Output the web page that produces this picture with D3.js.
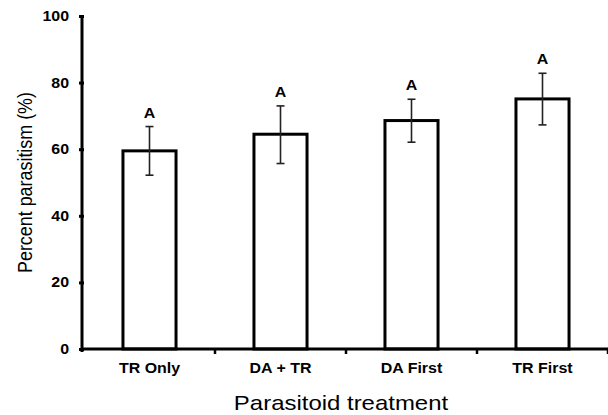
<!DOCTYPE html>
<html>
<head>
<meta charset="utf-8">
<script src="https://cdn.jsdelivr.net/npm/d3@7"></script>
<style>
  body { margin: 0; background: #fff; }
  svg { display: block; font-family: Arial, "Liberation Sans", sans-serif; }
</style>
</head>
<body>
<svg id="chart" width="608" height="415"></svg>
<script>
// データ
var treatments = ["TR Only", "DA + TR", "DA First", "TR First"];
var means = [59.5, 64.5, 68.6, 75.1];
var errLow = [52.2, 55.7, 62.1, 67.3];
var errHigh = [66.8, 73.0, 75.0, 82.8];
var letters = ["A", "A", "A", "A"];
var yTicks = [0, 20, 40, 60, 80, 100];

var svg = d3.select("#chart");
var plotLeft = 84, plotRight = 608, plotTop = 16, plotBottom = 349;
var stretch = 1.14; // 元画像は横方向に少し引き伸ばされている

var x = d3.scaleBand().domain(treatments).range([plotLeft, plotRight]).padding(0);
var y = d3.scaleLinear().domain([0, 100]).range([plotBottom, plotTop]);
var barW = x.bandwidth() * 0.405;

// 文字を横に引き伸ばす
function widen(sel) {
  sel.each(function () {
    var w = this.getComputedTextLength();
    d3.select(this).attr("textLength", w * stretch).attr("lengthAdjust", "spacingAndGlyphs");
  });
}

// 棒
svg.selectAll("rect.bar")
  .data(treatments)
  .enter()
  .append("rect")
  .attr("class", "bar")
  .attr("x", (d) => x(d) + x.bandwidth() / 2 - barW / 2)
  .attr("y", (d, i) => y(means[i]))
  .attr("width", barW)
  .attr("height", (d, i) => y(0) - y(means[i]))
  .attr("fill", "#fff")
  .attr("stroke", "#000")
  .attr("stroke-width", 3);

// エラーバー
var cap = 4;
var eb = svg.selectAll("g.err").data(treatments).enter().append("g")
  .attr("stroke", "#222").attr("stroke-width", 1.6);
eb.append("line")
  .attr("x1", (d) => x(d) + x.bandwidth() / 2)
  .attr("x2", (d) => x(d) + x.bandwidth() / 2)
  .attr("y1", (d, i) => y(errLow[i]))
  .attr("y2", (d, i) => y(errHigh[i]));
[errLow, errHigh].forEach(function (arr) {
  eb.append("line")
    .attr("x1", (d) => x(d) + x.bandwidth() / 2 - cap)
    .attr("x2", (d) => x(d) + x.bandwidth() / 2 + cap)
    .attr("y1", (d, i) => y(arr[i]))
    .attr("y2", (d, i) => y(arr[i]));
});

// 有意差の文字
svg.selectAll("text.letter").data(treatments).enter().append("text")
  .attr("class", "letter")
  .attr("x", (d) => x(d) + x.bandwidth() / 2)
  .attr("y", (d, i) => y(errHigh[i]) - 9)
  .attr("text-anchor", "middle")
  .attr("font-weight", "bold")
  .attr("font-size", 14)
  .text((d, i) => letters[i])
  .call(widen);

// y軸
var yAxis = d3.axisLeft(y).tickValues(yTicks).tickSize(5).tickPadding(10);
var gy = svg.append("g").attr("transform", `translate(${plotLeft},0)`).call(yAxis);
gy.select(".domain").attr("stroke-width", 3).attr("d", `M-2,${plotTop}V${plotBottom + 3}`);
gy.selectAll(".tick line").attr("stroke-width", 3);
gy.selectAll(".tick text")
  .attr("font-size", 14).attr("font-weight", "bold")
  .attr("font-family", "Arial, 'Liberation Sans', sans-serif").attr("fill", "#000")
  .call(widen);

// x軸
var xAxis = d3.axisBottom(x).tickSize(0).tickPadding(14);
var gx = svg.append("g").attr("transform", `translate(0,${plotBottom})`).call(xAxis);
gx.select(".domain").attr("stroke-width", 3).attr("d", `M${plotLeft - 2},0H${plotRight}`);
gx.selectAll(".tick text")
  .attr("font-size", 14).attr("font-weight", "bold")
  .attr("font-family", "Arial, 'Liberation Sans', sans-serif").attr("fill", "#000")
  .call(widen);
// カテゴリ境界の目盛り
gx.selectAll("line.sep").data(treatments).enter().append("line")
  .attr("class", "sep")
  .attr("x1", (d) => x(d) + x.bandwidth())
  .attr("x2", (d) => x(d) + x.bandwidth())
  .attr("y1", 0).attr("y2", 5)
  .attr("stroke", "#000").attr("stroke-width", 2.5);

// 軸タイトル
svg.append("text")
  .attr("x", 341)
  .attr("y", 410)
  .attr("text-anchor", "middle")
  .attr("font-size", 21)
  .text("Parasitoid treatment")
  .call(widen);
svg.append("text")
  .attr("transform", `translate(32,${(plotTop + plotBottom) / 2}) rotate(-90)`)
  .attr("text-anchor", "middle")
  .attr("font-size", 20.5)
  .attr("textLength", 181)
  .attr("lengthAdjust", "spacingAndGlyphs")
  .text("Percent parasitism (%)");
</script>
</body>
</html>
